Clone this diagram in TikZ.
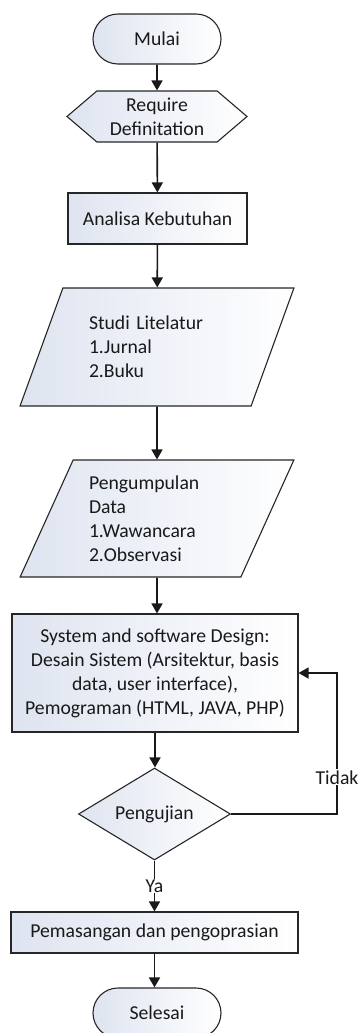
\documentclass[tikz,border=0pt]{standalone}
\usepackage{fontspec}
\setmainfont{Carlito}
\usetikzlibrary{arrows.meta,shapes.geometric,shapes.misc,shapes.symbols}
\definecolor{boxfill}{RGB}{222,228,240}

\begin{document}
\begin{tikzpicture}[x=1pt,y=-1pt,>={Triangle[length=10pt,width=11pt]},
  font=\fontsize{19.7}{24}\selectfont,
  base/.style={draw=black!85,line width=1.1pt,left color=boxfill,right color=white,inner sep=0pt,text=black!90},
  term/.style={base,rounded rectangle,minimum width=128pt,minimum height=50pt},
  prep/.style={base,signal,signal to=west and east,signal pointer angle=81,minimum width=180pt,minimum height=51pt,align=center},
  proc/.style={base,rectangle,align=center},
  io/.style={base,trapezium,trapezium left angle=63.4,trapezium right angle=116.6,trapezium stretches=true,minimum width=274pt,minimum height=118pt,text width=136pt,align=left},
  decision/.style={base,diamond,aspect=1.65,minimum width=152pt,minimum height=92pt},
  line/.style={line width=1.6pt,black!90},
  tag/.style={fill=white,inner sep=1pt,text=black!90}]
  \useasboundingbox (0,0) rectangle (358,1033);
  \node[term] (start) at (157,39) {Mulai};
  \node[prep] (req) at (157,116.5) {Require\\Definitation};
  \node[proc,minimum width=179pt,minimum height=51pt] (ana) at (157.5,218.5) {Analisa Kebutuhan};
  \node[io] (lit) at (157,347) {Studi Litelatur\\1.Jurnal\\2.Buku};
  \node[io,minimum height=117pt] (data) at (157,518.5) {Pengumpulan\\Data\\1.Wawancara\\2.Observasi};
  \node[proc,minimum width=286pt,minimum height=118pt] (design) at (155,673) {System and software Design:\\Desain Sistem (Arsitektur, basis\\data, user interface),\\Pemograman (HTML, JAVA, PHP)};
  \node[decision] (test) at (154.5,814) {Pengujian};
  \node[proc,minimum width=287pt,minimum height=41pt] (install) at (154.5,932.5) {Pemasangan dan pengoprasian};
  \node[term] (finish) at (157,1013) {Selesai};
  \coordinate (turn) at (337,814);
  \draw[->,line] (start) -- (req);
  \draw[->,line] (req) -- (ana);
  \draw[->,line] (ana) -- (lit);
  \draw[->,line] (lit) -- (data);
  \draw[->,line] (data) -- (data |- design.north);
  \draw[->,line] (design) -- (design |- test.north);
  \draw[->,line] (test) -- (install) node[midway,tag] {Ya};
  \draw[->,line] (install) -- (install |- finish.north);
  \draw[->,line] (test) -- (turn) |- (design) node[pos=0.13,tag] {Tidak};
\end{tikzpicture}
\end{document}
